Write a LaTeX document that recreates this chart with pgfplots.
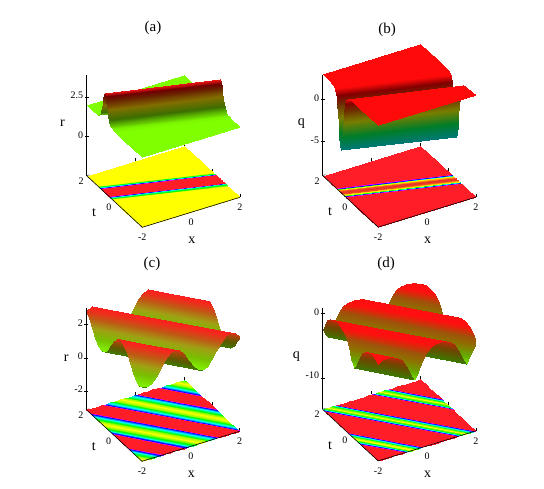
\documentclass[border=0pt]{standalone}
\usepackage{fontspec}
\setmainfont{Liberation Serif}
\usepackage{pgfplots}
\usepackage{pgfplotstable}
\pgfplotsset{compat=1.18}

% (a),(b): colour by height, 0..100. (c),(d): m runs 0..100 on faces turned to the viewer, 100..200 on faces turned away
\pgfplotsset{
  colormap={surfa}{rgb255(0pt)=(128,255,0); rgb255(6pt)=(100,200,0); rgb255(20pt)=(60,110,0); rgb255(50pt)=(130,110,0); rgb255(75pt)=(105,35,0); rgb255(90pt)=(110,0,0); rgb255(100pt)=(240,20,20)},
  colormap={surfb}{rgb255(0pt)=(0,120,120); rgb255(25pt)=(0,125,40); rgb255(50pt)=(120,125,0); rgb255(72pt)=(110,45,0); rgb255(85pt)=(130,0,0); rgb255(95pt)=(255,10,10); rgb255(100pt)=(255,10,10)},
  colormap={surfc}{rgb255(0pt)=(128,240,0); rgb255(25pt)=(120,190,0); rgb255(50pt)=(160,160,20); rgb255(75pt)=(190,90,20); rgb255(100pt)=(255,30,30); rgb255(125pt)=(170,70,10); rgb255(160pt)=(90,90,0); rgb255(200pt)=(60,130,0)},
  colormap={surfd}{rgb255(0pt)=(125,230,0); rgb255(20pt)=(100,170,0); rgb255(50pt)=(140,115,0); rgb255(75pt)=(160,80,10); rgb255(88pt)=(220,40,10); rgb255(96pt)=(255,15,15); rgb255(104pt)=(255,15,15); rgb255(115pt)=(190,40,10); rgb255(150pt)=(110,70,0); rgb255(200pt)=(60,120,0)},
  colormap={floora}{rgb255(0pt)=(255,255,0); rgb255(2pt)=(255,255,0); rgb255(5pt)=(0,255,0); rgb255(10pt)=(0,255,255); rgb255(13pt)=(0,0,255); rgb255(15pt)=(255,0,255); rgb255(18pt)=(255,30,40); rgb255(100pt)=(255,30,40)},
  colormap={floorb}{rgb255(0pt)=(235,50,40); rgb255(21pt)=(240,80,30); rgb255(40pt)=(255,170,0); rgb255(58pt)=(255,255,0); rgb255(69pt)=(0,255,0); rgb255(76pt)=(0,255,255); rgb255(82pt)=(0,0,255); rgb255(86pt)=(255,0,255); rgb255(89pt)=(255,30,40); rgb255(100pt)=(255,30,40)},
  colormap={floorc}{rgb255(0pt)=(255,255,0); rgb255(17pt)=(0,255,0); rgb255(38pt)=(0,255,255); rgb255(58pt)=(0,0,255); rgb255(66pt)=(255,0,255); rgb255(70pt)=(255,30,40); rgb255(130pt)=(255,30,40); rgb255(134pt)=(255,0,255); rgb255(142pt)=(0,0,255); rgb255(162pt)=(0,255,255); rgb255(183pt)=(0,255,0); rgb255(200pt)=(255,255,0)},
  colormap={floord}{rgb255(0pt)=(255,255,0); rgb255(23pt)=(0,255,0); rgb255(38pt)=(0,255,255); rgb255(49pt)=(0,0,255); rgb255(55pt)=(255,0,255); rgb255(59pt)=(255,30,40); rgb255(141pt)=(255,30,40); rgb255(145pt)=(255,0,255); rgb255(151pt)=(0,0,255); rgb255(162pt)=(0,255,255); rgb255(177pt)=(0,255,0); rgb255(200pt)=(255,255,0)},
  panel/.style={
    x={(24.42pt,7.5pt)}, y={(-13.9pt,12.9pt)},
    anchor=origin, clip=false,
    xmin=-2, xmax=2, ymin=-2, ymax=2,
    xtick={-2,0,2}, ytick={0,2},
    xtick pos=lower, ytick pos=lower, ztick pos=left,
    axis line style={draw=none},
    tick style={black,thin},
    ztick style={draw=none},
    major tick length=3pt,
    tick label style={font=\fontsize{10}{11}\selectfont},
    xticklabel style={anchor=north,yshift=-3pt},
    yticklabel style={yshift=2pt},
    label style={font=\fontsize{14}{15}\selectfont},
    /pgf/number format/assume math mode=true,
    xlabel={x}, ylabel={t},
    xlabel style={xshift=-10pt,yshift=-4pt},
    ylabel style={xshift=-5pt,yshift=10pt},
    zlabel style={rotate=-90,xshift=2pt,yshift=-4pt},
  },
  surface/.style={surf, shader=interp, mesh/cols=2, point meta=\thisrow{m}},
  axisline/.style={black, line width=0.6pt, no markers, forget plot},
  ztickmark/.style={black, only marks, mark=-, mark size=2pt, forget plot},
}

% each row is one straight line across the square, given by its two ends
\pgfplotstableread{
x t a b
2 2 2.00 3.00
2 2 2.00 3.00
-2 2 2.00 3.00
2 0.72 2.00 3.00
-2 1.49 2.00 2.99
2 0.21 2.00 2.99
-2 1.29 2.02 2.93
2 0.01 2.02 2.93
-2 1.19 2.05 2.81
2 -0.09 2.05 2.81
-2 1.09 2.13 2.50
2 -0.19 2.13 2.50
-2 0.99 2.34 1.73
2 -0.29 2.34 1.73
-2 0.94 2.53 1.04
2 -0.34 2.53 1.04
-2 0.89 2.80 0.06
2 -0.39 2.80 0.06
-2 0.84 3.13 -1.17
2 -0.44 3.13 -1.17
-2 0.79 3.49 -2.50
2 -0.49 3.49 -2.50
-2 0.74 3.79 -3.58
2 -0.54 3.79 -3.58
-2 0.69 3.90 -4.00
2 -0.59 3.90 -4.00
-2 0.64 3.79 -3.58
2 -0.64 3.79 -3.58
-2 0.59 3.49 -2.50
2 -0.69 3.49 -2.50
-2 0.54 3.13 -1.17
2 -0.74 3.13 -1.17
-2 0.49 2.80 0.06
2 -0.79 2.80 0.06
-2 0.44 2.53 1.04
2 -0.84 2.53 1.04
-2 0.39 2.34 1.73
2 -0.89 2.34 1.73
-2 0.29 2.13 2.50
2 -0.99 2.13 2.50
-2 0.19 2.05 2.81
2 -1.09 2.05 2.81
-2 0.09 2.02 2.93
2 -1.19 2.02 2.93
-2 -0.11 2.00 2.99
2 -1.39 2.00 2.99
-2 -0.72 2.00 3.00
2 -2 2.00 3.00
-2 -2 2.00 3.00
-2 -2 2.00 3.00
}\tabAB

\pgfplotstableread{
x t z m
2 2 1.618 21
2 2 1.618 21
1.843 2 1.367 6.7
2 1.815 1.367 6.7
1.653 2 1.25 0
2 1.59 1.25 0
1.653 2 1.25 200
2 1.59 1.25 200
1.462 2 1.367 193.3
2 1.365 1.367 193.3
1.271 2 1.688 175
2 1.14 1.688 175
1.081 2 2.125 150
2 0.915 2.125 150
0.89 2 2.563 125
2 0.69 2.563 125
0.699 2 2.883 106.7
2 0.465 2.883 106.7
0.508 2 3 100
2 0.24 3 100
0.318 2 2.883 93.3
2 0.015 2.883 93.3
0.127 2 2.563 75
2 -0.21 2.563 75
-0.064 2 2.125 50
2 -0.435 2.125 50
-0.254 2 1.688 25
2 -0.66 1.688 25
-0.445 2 1.367 6.7
2 -0.885 1.367 6.7
-0.636 2 1.25 0
2 -1.11 1.25 0
-0.636 2 1.25 200
2 -1.11 1.25 200
-0.826 2 1.367 193.3
2 -1.335 1.367 193.3
-1.017 2 1.688 175
2 -1.56 1.688 175
-1.208 2 2.125 150
2 -1.785 2.125 150
-1.39 2 2.563 125
2 -2 2.563 125
-1.589 2 2.883 106.7
1.801 -2 2.883 106.7
-1.78 2 3 100
1.61 -2 3 100
-1.97 2 2.883 93.3
1.419 -2 2.883 93.3
-2 2 2.844 91
1.39 -2 2.844 91
-2 1.81 2.563 75
1.229 -2 2.563 75
-2 1.585 2.125 50
1.038 -2 2.125 50
-2 1.36 1.688 25
0.847 -2 1.688 25
-2 1.135 1.367 6.7
0.657 -2 1.367 6.7
-2 0.91 1.25 0
0.466 -2 1.25 0
-2 0.91 1.25 200
0.466 -2 1.25 200
-2 0.685 1.367 193.3
0.275 -2 1.367 193.3
-2 0.46 1.688 175
0.085 -2 1.688 175
-2 0.235 2.125 150
-0.106 -2 2.125 150
-2 0.01 2.563 125
-0.297 -2 2.563 125
-2 -0.215 2.883 106.7
-0.487 -2 2.883 106.7
-2 -0.44 3 100
-0.678 -2 3 100
-2 -0.665 2.883 93.3
-0.869 -2 2.883 93.3
-2 -0.89 2.563 75
-1.059 -2 2.563 75
-2 -1.115 2.125 50
-1.25 -2 2.125 50
-2 -1.34 1.688 25
-1.441 -2 1.688 25
-2 -1.565 1.367 6.7
-1.631 -2 1.367 6.7
-2 -1.79 1.25 0
-1.822 -2 1.25 0
-2 -1.79 1.25 200
-1.822 -2 1.25 200
-2 -2 1.352 194.2
-2 -2 1.352 194.2
}\tabC

\pgfplotstableread{
x t z m
2 2 -0.4 121.7
2 2 -0.4 121.7
1.831 2 0.2 108.7
2 1.8 0.2 108.7
1.661 2 0.5 102.2
2 1.6 0.5 102.2
1.436 2 0.6 100
2 1.335 0.6 100
1.212 2 0.5 97.8
2 1.07 0.5 97.8
1.042 2 0.2 91.3
2 0.87 0.2 91.3
0.873 2 -0.4 78.3
2 0.67 -0.4 78.3
0.703 2 -1.5 54.3
2 0.47 -1.5 54.3
0.534 2 -2.95 22.8
2 0.27 -2.95 22.8
0.449 2 -3.5 10.9
2 0.17 -3.5 10.9
0.364 2 -4 0
2 0.07 -4 0
0.364 2 -4 200
2 0.07 -4 200
0.28 2 -3.5 189.1
2 -0.03 -3.5 189.1
0.195 2 -2.95 177.2
2 -0.13 -2.95 177.2
0.025 2 -1.5 145.7
2 -0.33 -1.5 145.7
-0.144 2 -0.4 121.7
2 -0.53 -0.4 121.7
-0.314 2 0.2 108.7
2 -0.73 0.2 108.7
-0.483 2 0.5 102.2
2 -0.93 0.5 102.2
-0.708 2 0.6 100
2 -1.195 0.6 100
-0.932 2 0.5 97.8
2 -1.46 0.5 97.8
-1.102 2 0.2 91.3
2 -1.66 0.2 91.3
-1.271 2 -0.4 78.3
2 -1.86 -0.4 78.3
-1.39 2 -1.1 63
2 -2 -1.1 63
-1.441 2 -1.5 54.3
1.949 -2 -1.5 54.3
-1.61 2 -2.95 22.8
1.78 -2 -2.95 22.8
-1.695 2 -3.5 10.9
1.695 -2 -3.5 10.9
-1.78 2 -4 0
1.61 -2 -4 0
-1.78 2 -4 200
1.61 -2 -4 200
-1.864 2 -3.5 189.1
1.525 -2 -3.5 189.1
-1.949 2 -2.95 177.2
1.441 -2 -2.95 177.2
-2 2 -2.55 168.5
1.39 -2 -2.55 168.5
-2 1.86 -1.5 145.7
1.271 -2 -1.5 145.7
-2 1.66 -0.4 121.7
1.102 -2 -0.4 121.7
-2 1.46 0.2 108.7
0.932 -2 0.2 108.7
-2 1.26 0.5 102.2
0.763 -2 0.5 102.2
-2 0.995 0.6 100
0.538 -2 0.6 100
-2 0.73 0.5 97.8
0.314 -2 0.5 97.8
-2 0.53 0.2 91.3
0.144 -2 0.2 91.3
-2 0.33 -0.4 78.3
-0.025 -2 -0.4 78.3
-2 0.13 -1.5 54.3
-0.195 -2 -1.5 54.3
-2 -0.07 -2.95 22.8
-0.364 -2 -2.95 22.8
-2 -0.17 -3.5 10.9
-0.449 -2 -3.5 10.9
-2 -0.27 -4 0
-0.534 -2 -4 0
-2 -0.27 -4 200
-0.534 -2 -4 200
-2 -0.37 -3.5 189.1
-0.619 -2 -3.5 189.1
-2 -0.47 -2.95 177.2
-0.703 -2 -2.95 177.2
-2 -0.67 -1.5 145.7
-0.873 -2 -1.5 145.7
-2 -0.87 -0.4 121.7
-1.042 -2 -0.4 121.7
-2 -1.07 0.2 108.7
-1.212 -2 0.2 108.7
-2 -1.27 0.5 102.2
-1.381 -2 0.5 102.2
-2 -1.535 0.6 100
-1.606 -2 0.6 100
-2 -1.8 0.5 97.8
-1.831 -2 0.5 97.8
-2 -2 0.2 91.3
-2 -2 0.2 91.3
}\tabD

\begin{document}
\begin{tikzpicture}[x=1pt,y=1pt]
\useasboundingbox (0,0) rectangle (544,488);

% (a)
\begin{axis}[panel, at={(163.3pt,340.5pt)}, z={(0pt,15.6pt)},
  zmin=-2.5, zmax=3.95, ztick={0,2.5}, zlabel={r},
  point meta min=2, point meta max=3.9]
\addplot3[surface, colormap name=floora, point meta=\thisrow{a}] table[x=x,y=t,z expr=-2.5] {\tabAB};
\addplot3[surface, colormap name=surfa, point meta=\thisrow{a}] table[x=x,y=t,z=a] {\tabAB};
\addplot3[axisline] coordinates {(-2,2,-2.5)(-2,2,3.95)};
\addplot3[axisline] coordinates {(-2,2,-2.5)(-2,-2,-2.5)};
\addplot3[axisline] coordinates {(-2,-2,-2.5)(2,-2,-2.5)};
\addplot3[ztickmark] coordinates {(-2,2,0)(-2,2,2.5)};
\end{axis}

% (b)
\begin{axis}[panel, at={(399.2pt,377.9pt)}, z={(0pt,8.47pt)},
  zmin=-9, zmax=2.87, ztick={-5,0}, zlabel={q},
  point meta min=-4, point meta max=3]
\addplot3[surface, colormap name=floorb, point meta=\thisrow{b}] table[x=x,y=t,z expr=-9] {\tabAB};
\addplot3[surface, colormap name=surfb, point meta=\thisrow{b}] table[x=x,y=t,z=b] {\tabAB};
\addplot3[axisline] coordinates {(-2,2,-9)(-2,2,2.87)};
\addplot3[axisline] coordinates {(-2,2,-9)(-2,-2,-9)};
\addplot3[axisline] coordinates {(-2,-2,-9)(2,-2,-9)};
\addplot3[ztickmark] coordinates {(-2,2,-5)(-2,2,0)};
\end{axis}

% (c)
\begin{axis}[panel, at={(163pt,119.2pt)}, z={(0pt,16.67pt)},
  zmin=-3.1, zmax=3, ztick={-2,0,2}, zlabel={r},
  point meta min=0, point meta max=200]
\addplot3[surface, colormap name=floorc] table[x=x,y=t,z expr=-3.1] {\tabC};
\addplot3[surface, colormap name=surfc] table[x=x,y=t,z=z] {\tabC};
\addplot3[axisline] coordinates {(-2,2,-3.1)(-2,2,3)};
\addplot3[axisline] coordinates {(-2,2,-3.1)(-2,-2,-3.1)};
\addplot3[axisline] coordinates {(-2,-2,-3.1)(2,-2,-3.1)};
\addplot3[ztickmark] coordinates {(-2,2,-2)(-2,2,0)(-2,2,2)};
\end{axis}

% (d)
\begin{axis}[panel, at={(399.2pt,164pt)}, z={(0pt,6.45pt)},
  zmin=-14.9, zmax=0.8, ztick={-10,0}, zlabel={q},
  point meta min=0, point meta max=200]
\addplot3[surface, colormap name=floord] table[x=x,y=t,z expr=-14.9] {\tabD};
\addplot3[surface, colormap name=surfd] table[x=x,y=t,z=z] {\tabD};
\addplot3[axisline] coordinates {(-2,2,-14.9)(-2,2,0.8)};
\addplot3[axisline] coordinates {(-2,2,-14.9)(-2,-2,-14.9)};
\addplot3[axisline] coordinates {(-2,-2,-14.9)(2,-2,-14.9)};
\addplot3[ztickmark] coordinates {(-2,2,-10)(-2,2,0)};
\end{axis}

\node[font=\fontsize{15}{16}\selectfont] at (153,460) {(a)};
\node[font=\fontsize{15}{16}\selectfont] at (387,458) {(b)};
\node[font=\fontsize{15}{16}\selectfont] at (152,224) {(c)};
\node[font=\fontsize{15}{16}\selectfont] at (386,224) {(d)};
\end{tikzpicture}
\end{document}
